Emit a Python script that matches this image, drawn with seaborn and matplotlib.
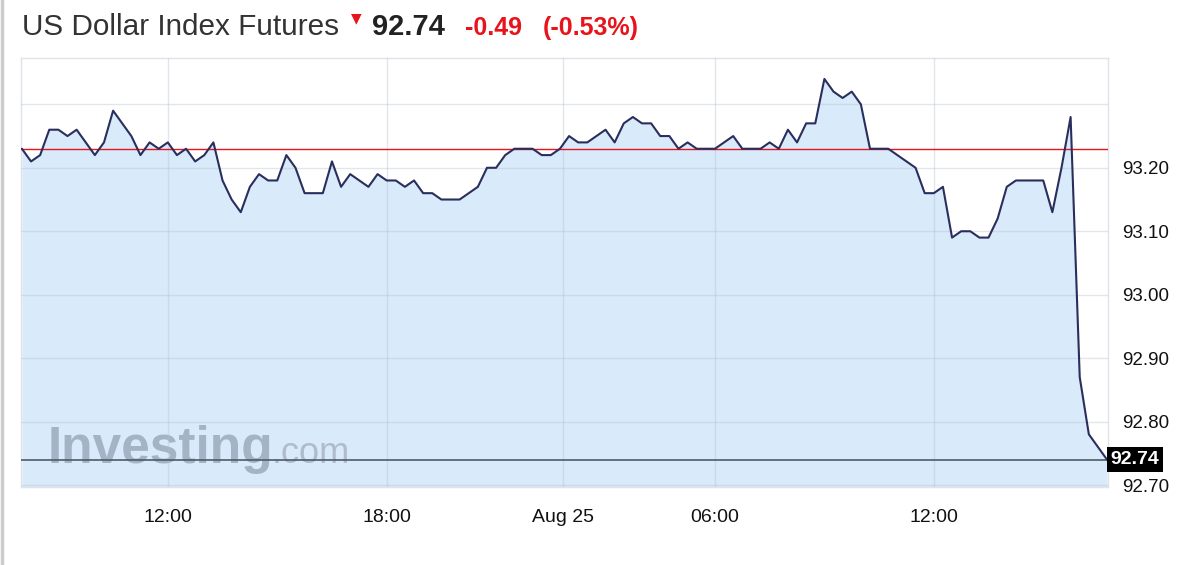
import pandas as pd
import seaborn as sns
import matplotlib.pyplot as plt
from matplotlib.lines import Line2D

# US Dollar Index futures, one value per bar
prices = [
    93.23, 93.21, 93.22, 93.26, 93.26, 93.25, 93.26, 93.24, 93.22, 93.24,
    93.29, 93.27, 93.25, 93.22, 93.24, 93.23, 93.24, 93.22, 93.23, 93.21,
    93.22, 93.24, 93.18, 93.15, 93.13,
    93.17, 93.19, 93.18, 93.18, 93.22, 93.20, 93.16, 93.16, 93.16, 93.21,
    93.17, 93.19, 93.18, 93.17, 93.19, 93.18, 93.18, 93.17, 93.18, 93.16,
    93.16, 93.15, 93.15, 93.15,
    93.16, 93.17, 93.20, 93.20, 93.22, 93.23, 93.23, 93.23, 93.22, 93.22,
    93.23, 93.25, 93.24, 93.24, 93.25, 93.26, 93.24, 93.27, 93.28, 93.27,
    93.27, 93.25, 93.25, 93.23,
    93.24, 93.23, 93.23, 93.23, 93.24, 93.25, 93.23, 93.23, 93.23, 93.24,
    93.23, 93.26, 93.24, 93.27, 93.27, 93.34, 93.32, 93.31, 93.32, 93.30,
    93.23, 93.23, 93.23, 93.22,
    93.21, 93.20, 93.16, 93.16, 93.17, 93.09, 93.10, 93.10, 93.09, 93.09,
    93.12, 93.17, 93.18, 93.18, 93.18, 93.18, 93.13, 93.20, 93.28, 92.87,
    92.78, 92.76, 92.74,
]
x_ticks = [16, 40, 59.3, 76, 100]
x_labels = ["12:00", "18:00", "Aug 25", "06:00", "12:00"]
y_ticks = [92.70, 92.80, 92.90, 93.00, 93.10, 93.20, 93.30]
y_labels = ["92.70", "92.80", "92.90", "93.00", "93.10", "93.20", ""]
prev_close = 93.23
last = 92.74
change = "-0.49"
change_pct = "(-0.53%)"

df = pd.DataFrame({"bar": range(len(prices)), "price": prices})

sns.set_style("white")
plt.rcParams["font.family"] = ["Liberation Sans", "DejaVu Sans"]

fig = plt.figure(figsize=(12, 5.65), dpi=100)
ax = fig.add_axes([21 / 1200, 1 - 487 / 565, 1087 / 1200, 429 / 565])

ymin = 92.697
ax.fill_between(df["bar"], df["price"], ymin, color="#d9eafb", lw=0, zorder=1)
sns.lineplot(data=df, x="bar", y="price", ax=ax, color="#2a2e5c", lw=1.5, zorder=3)
ax.axhline(prev_close, color="#e8141b", lw=1.0, zorder=2.8)
ax.axhline(last, color="#4f5b66", lw=1.2, zorder=2.8)

ax.set_xlim(-0.1, len(prices) - 0.9)
ax.set_ylim(ymin, 93.373)
ax.set_xticks(x_ticks)
ax.set_xticklabels(x_labels)
ax.set_yticks(y_ticks)
ax.set_yticklabels(y_labels)
ax.yaxis.tick_right()
ax.set_xlabel("")
ax.set_ylabel("")
ax.tick_params(axis="y", length=0, pad=10, labelsize=13.5, colors="#111111")
ax.tick_params(axis="x", length=0, pad=16, labelsize=14, colors="#111111")
ax.set_axisbelow(False)
ax.grid(True, color="#b8c0cc", alpha=0.4, lw=1.0)
for s in ax.spines.values():
    s.set_color("#dfe3e8")
    s.set_linewidth(1.0)

# last price tag
ax.annotate(f"{last:.2f}", xy=(1.0, last), xycoords=ax.get_yaxis_transform(),
            xytext=(2, 0), textcoords="offset points", ha="left", va="center",
            color="white", fontsize=14, fontweight="bold", annotation_clip=False,
            bbox=dict(facecolor="black", edgecolor="none", boxstyle="square,pad=0.2"))

# watermark
ax.text(48 / 1200, 1 - 463 / 565, "Investing", transform=fig.transFigure,
        fontsize=37, fontweight="bold", color="#a4b4c6", va="baseline",
        zorder=2.5, clip_on=False)
ax.text(272 / 1200, 1 - 463 / 565, ".com", transform=fig.transFigure,
        fontsize=26, color="#b0bccb", va="baseline", zorder=2.5, clip_on=False)

# header
fig.text(22 / 1200, 1 - 35 / 565, "US Dollar Index Futures", fontsize=21.4,
         color="#333333", va="baseline")
fig.text(356 / 1200, 1 - 22 / 565, "▼", fontsize=10, color="#e8141b",
         ha="center", va="baseline", family="DejaVu Sans")
fig.text(372 / 1200, 1 - 35 / 565, f"{last:.2f}", fontsize=21, fontweight="bold",
         color="#222222", va="baseline")
fig.text(465 / 1200, 1 - 35 / 565, change, fontsize=18, fontweight="bold",
         color="#e8141b", va="baseline")
fig.text(543 / 1200, 1 - 35 / 565, change_pct, fontsize=18, fontweight="bold",
         color="#e8141b", va="baseline")

fig.add_artist(Line2D([0.0015, 0.0015], [0, 1], color="#cccccc", lw=2.5))

fig.savefig("out.png", dpi=100, facecolor="white")
